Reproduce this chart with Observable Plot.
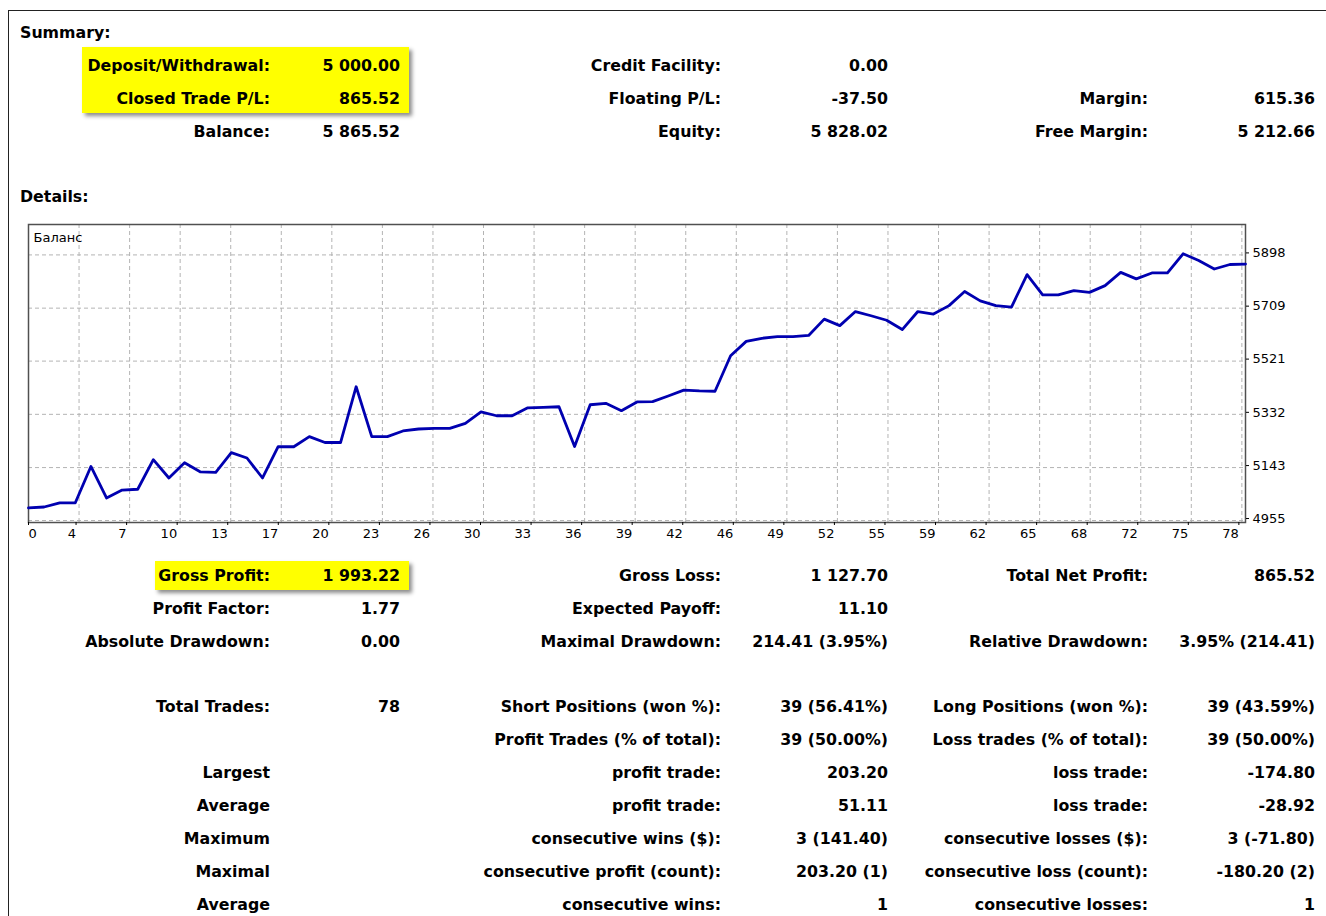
<!DOCTYPE html>
<html>
<head>
<meta charset="utf-8">
<script src="https://cdn.jsdelivr.net/npm/d3@7"></script>
<script src="https://cdn.jsdelivr.net/npm/@observablehq/plot@0.6"></script>
<style>
  html, body { margin: 0; padding: 0; background: #fff; }
  body { width: 1326px; height: 916px; position: relative; overflow: hidden;
         font-family: "DejaVu Sans", sans-serif; color: #000; }
  .border-top { position: absolute; left: 8px; top: 10px; width: 1330px; height: 0; border-top: 1.5px solid #222; }
  .border-left { position: absolute; left: 8px; top: 10px; width: 0; height: 920px; border-left: 1.5px solid #222; }
  .hdr { position: absolute; left: 20px; font-weight: bold; font-size: 15.8px; line-height: 20px; }
  .cell { position: absolute; left: 0; text-align: right; font-weight: bold; font-size: 15.8px; line-height: 20px; white-space: nowrap; }
  .hl { position: absolute; background: #ffff00; box-shadow: 3px 3px 4px rgba(0,0,0,0.45); }
  #chart { position: absolute; left: 0; top: 214px; }
</style>
</head>
<body>
<div class="border-top"></div>
<div class="border-left"></div>
<div class="hl" style="left:82px;top:47px;width:327px;height:66px;"></div>
<div class="hl" style="left:155px;top:561px;width:254px;height:29px;"></div>
<div id="texts"></div>
<div id="chart"></div>
<script>
// ---- chart data ----
const trades = d3.range(79); // trade index 0..78
const balance = [5000, 5003, 5018, 5018, 5147, 5035, 5063, 5066, 5171, 5106, 5160, 5128, 5126, 5196, 5177, 5106, 5217, 5217, 5253, 5232, 5232, 5430, 5253, 5253, 5273, 5280, 5282, 5282, 5300, 5341, 5327, 5327, 5355, 5357, 5359, 5218, 5366, 5371, 5345, 5376, 5377, 5397, 5418, 5415, 5414, 5540, 5591, 5602, 5608, 5608, 5612, 5670, 5647, 5697, 5682, 5666, 5633, 5697, 5688, 5718, 5768, 5735, 5718, 5713, 5828, 5756, 5756, 5771, 5765, 5789, 5836, 5813, 5834, 5834, 5902, 5878, 5848, 5864, 5865.52];
const xTickLabels = [0, 4, 7, 10, 13, 17, 20, 23, 26, 30, 33, 36, 39, 42, 46, 49, 52, 55, 59, 62, 65, 68, 72, 75, 78];
const yTickLabels = [4955, 5143, 5332, 5521, 5709, 5898];
const seriesLabel = "Баланс";

// ---- report texts ----
const topLabels1 = ["Deposit/Withdrawal:", "Closed Trade P/L:", "Balance:"];
const topValues1 = ["5 000.00", "865.52", "5 865.52"];
const topLabels2 = ["Credit Facility:", "Floating P/L:", "Equity:"];
const topValues2 = ["0.00", "-37.50", "5 828.02"];
const topLabels3 = ["", "Margin:", "Free Margin:"];
const topValues3 = ["", "615.36", "5 212.66"];

const botLabels1 = ["Gross Profit:", "Profit Factor:", "Absolute Drawdown:", "", "Total Trades:", "", "Largest", "Average", "Maximum", "Maximal", "Average"];
const botValues1 = ["1 993.22", "1.77", "0.00", "", "78", "", "", "", "", "", ""];
const botLabels2 = ["Gross Loss:", "Expected Payoff:", "Maximal Drawdown:", "", "Short Positions (won %):", "Profit Trades (% of total):", "profit trade:", "profit trade:", "consecutive wins ($):", "consecutive profit (count):", "consecutive wins:"];
const botValues2 = ["1 127.70", "11.10", "214.41 (3.95%)", "", "39 (56.41%)", "39 (50.00%)", "203.20", "51.11", "3 (141.40)", "203.20 (1)", "1"];
const botLabels3 = ["Total Net Profit:", "", "Relative Drawdown:", "", "Long Positions (won %):", "Loss trades (% of total):", "loss trade:", "loss trade:", "consecutive losses ($):", "consecutive loss (count):", "consecutive losses:"];
const botValues3 = ["865.52", "", "3.95% (214.41)", "", "39 (43.59%)", "39 (50.00%)", "-174.80", "-28.92", "3 (-71.80)", "-180.20 (2)", "1"];

// ---- layout of texts ----
const texts = document.getElementById("texts");
function put(cls, txt, right, cy) {
  if (!txt) return;
  const d = document.createElement("div");
  d.className = cls;
  d.textContent = txt;
  d.style.top = (cy - 9) + "px";
  if (cls === "cell") d.style.width = right + "px";
  texts.appendChild(d);
}
put("hdr", "Summary:", 0, 32);
put("hdr", "Details:", 0, 196);
const topY = [65, 98, 131];
const botY = [575, 608, 641, 674, 706, 739, 772, 805, 838, 871, 904];
const cols = [[270, 400], [721, 888], [1148, 1315]];
[[topLabels1, topValues1], [topLabels2, topValues2], [topLabels3, topValues3]].forEach(([L, V], c) => {
  L.forEach((t, r) => { put("cell", t, cols[c][0], topY[r]); put("cell", V[r], cols[c][1], topY[r]); });
});
[[botLabels1, botValues1], [botLabels2, botValues2], [botLabels3, botValues3]].forEach(([L, V], c) => {
  L.forEach((t, r) => { put("cell", t, cols[c][0], botY[r]); put("cell", V[r], cols[c][1], botY[r]); });
});

// ---- chart ----
const xTickPos = xTickLabels.map((_, k) => k * 3.2403);
const labelAt = new Map(xTickPos.map((p, k) => [p, xTickLabels[k]]));
const data = trades.map((t, i) => ({t, v: balance[i]}));

const chart = Plot.plot({
  width: 1326,
  height: 330,
  marginLeft: 28,
  marginRight: 81,
  marginTop: 10,
  marginBottom: 22,
  style: {fontFamily: "DejaVu Sans", fontSize: "13px", color: "#000", background: "transparent"},
  x: {domain: [0, 78]},
  y: {domain: [4948, 6006]},
  marks: [
    Plot.gridX(xTickPos.slice(1), {stroke: "#b4b4b4", strokeOpacity: 1, strokeDasharray: "4,3"}),
    Plot.gridY(yTickLabels, {stroke: "#b4b4b4", strokeOpacity: 1, strokeDasharray: "4,3"}),
    Plot.frame({stroke: "#505050", strokeWidth: 1.5}),
    Plot.axisX([xTickPos[0]], {tickSize: 3, tickPadding: 3, textAnchor: "start", dx: 0, tickFormat: d => String(labelAt.get(d)), label: null}),
    Plot.axisX(xTickPos.slice(1), {tickSize: 3, tickPadding: 3, textAnchor: "end", dx: -3, tickFormat: d => String(labelAt.get(d)), label: null}),
    Plot.axisY(yTickLabels, {anchor: "right", tickSize: 3, tickPadding: 4, dy: -2, tickFormat: d => String(d), label: null}),
    Plot.text([seriesLabel], {frameAnchor: "top-left", dx: 5, dy: 8, lineAnchor: "top", textAnchor: "start", text: d => d}),
    Plot.line(data, {x: "t", y: "v", stroke: "#0000b0", strokeWidth: 2.8, strokeLinejoin: "round"})
  ]
});
document.getElementById("chart").appendChild(chart);
</script>
</body>
</html>
